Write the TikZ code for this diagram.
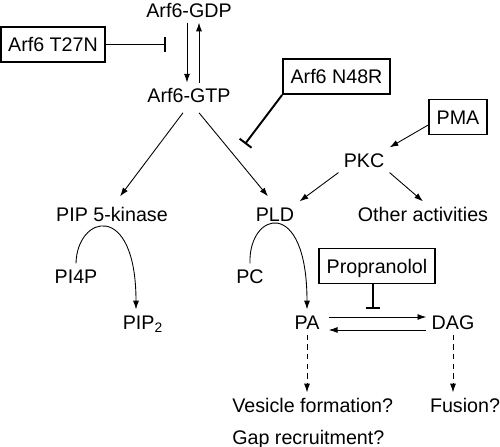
\documentclass[tikz,border=0pt]{standalone}
\usepackage{fontspec}
\setmainfont{Liberation Sans}
\usetikzlibrary{arrows.meta, positioning, calc}
\tikzset{
    lbl/.style = {inner sep=0.1cm, text height=0.29cm, text depth=0cm},
    box/.style = {lbl, draw, line width=1.1pt, inner xsep=0.15cm, minimum height=0.7cm},
    act/.style = {->, line width=0.5pt},
    inhib/.style = {-{Bar[width=8.5pt]}, line width=1.1pt},
    maybe/.style = {->, line width=0.5pt, dash pattern=on 3pt off 2.5pt}
}

\begin{document}
\begin{tikzpicture}[x=0.02cm, y=-0.02cm, >={Latex[length=5pt,width=3.4pt]},
    font=\fontsize{11.2}{13}\selectfont]
    \useasboundingbox (0,0) rectangle (500,446);
    % Nodos
    \node [lbl] (gdp) at (189,10) {Arf6-GDP};
    \node [lbl, below=1.2cm of gdp] (gtp) {Arf6-GTP};
    \node [box] (t27n) at (53,44.5) {Arf6 T27N};
    \node [box] (n48r) at (336.5,76.5) {Arf6 N48R};
    \node [box] (pma) at (458,117) {PMA};
    \node [lbl] (pkc) at (364,160) {PKC};
    \node [lbl] (pipk) at (112,214) {PIP 5-kinase};
    \node [lbl] (pld) at (275,214) {PLD};
    \node [lbl] (other) at (423,214) {Other activities};
    \node [lbl] (pi4p) at (76,276) {PI4P};
    \node [lbl] (pip2) at (143,322) {PIP\textsubscript{2}};
    \node [lbl] (pc) at (250,276) {PC};
    \node [box] (prop) at (377,266) {Propranolol};
    \node [lbl] (pa) at (307,322) {PA};
    \node [lbl] (dag) at (453,322) {DAG};
    \node [lbl, anchor=west] (ves) at (227,405) {Vesicle formation?};
    \node [lbl, below=0.14cm of ves.south west, anchor=north west] (gap) {Gap recruitment?};
    \node [lbl] (fus) at (465,405) {Fusion?};
    \coordinate (t27nend) at (166,44.5);
    \coordinate (n48rend) at (245,144);
    \coordinate (propend) at (373,309);
    % Flechas
    \draw [act] ([xshift=-0.04cm]gdp.south) -- ([xshift=-0.04cm]gtp.north);
    \draw [act] ([xshift=0.2cm]gtp.north) -- ([xshift=0.2cm]gdp.south);
    \draw [inhib] (t27n.east) -- (t27nend);
    \draw [inhib] (n48r.south west) -- (n48rend);
    \draw [inhib] (prop.south -| propend) -- (propend);
    \draw [act] ([xshift=-0.12cm,yshift=-0.1cm]gtp.south) -- ([xshift=0.16cm,yshift=0.1cm]pipk.north);
    \draw [act] ([xshift=0.2cm,yshift=-0.1cm]gtp.south) -- ([xshift=-0.14cm,yshift=0.1cm]pld.north);
    \draw [act] ([yshift=-0.16cm]pma.west) -- (pkc.north east);
    \draw [act] (pkc.south west) -- (pld.north east);
    \draw [act] (pkc.south east) -- (other.north);
    \draw [act] (pi4p.north) .. controls (77,215) and (136,200) .. ([xshift=-0.14cm]pip2.north);
    \draw [act] (pc.north) .. controls (248,212) and (307,195) .. (pa.north);
    \draw [act] ([xshift=0.08cm,yshift=0.1cm]pa.east) -- ([yshift=0.1cm]pa.east -| dag.west);
    \draw [act] ([yshift=-0.16cm]dag.west) -- ([xshift=0.08cm,yshift=-0.16cm]pa.east);
    \draw [maybe] (pa.south) -- (pa.south |- ves.north);
    \draw [maybe] (dag.south) -- (dag.south |- fus.north);
\end{tikzpicture}
\end{document}
